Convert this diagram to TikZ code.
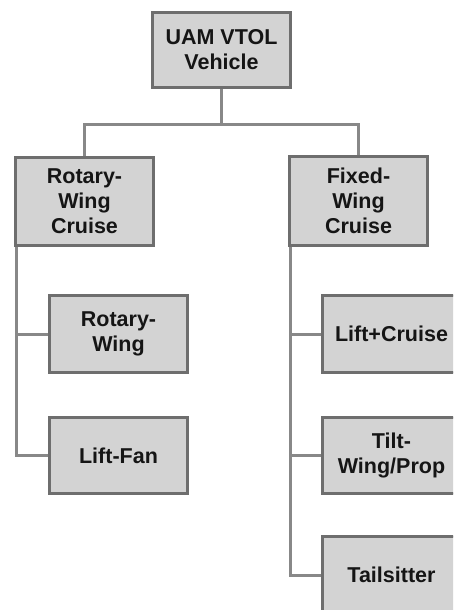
\documentclass[tikz,border=0pt]{standalone}
\usepackage{fontspec}
\setmainfont{Liberation Sans}
\definecolor{boxfill}{HTML}{D3D3D3}
\definecolor{boxline}{HTML}{6E6E6E}
\definecolor{linkgray}{HTML}{888888}
\definecolor{txt}{HTML}{151515}
\begin{document}
\begin{tikzpicture}[x=1pt,y=-1pt,
  box/.style={draw=boxline, line width=1.6pt, fill=boxfill, rectangle,
    inner sep=0pt, minimum width=137pt, align=center, text=txt,
    font=\fontsize{21.5}{25}\selectfont\bfseries},
  link/.style={draw=linkgray, line width=3pt}]
\useasboundingbox (0,0) rectangle (453,610);
\clip (0,0) rectangle (453,610);
\fill[white] (0,0) rectangle (453,610);
% nodes
\node[box, minimum height=74pt] (root) at (221.5,50) {UAM VTOL\\Vehicle};
\node[box, minimum height=87pt] (rwc) at (84.5,201.5) {Rotary-\\Wing\\Cruise};
\node[box, minimum height=88pt] (fwc) at (358.5,201) {Fixed-\\Wing\\Cruise};
\node[box, minimum height=76pt] (rw) at (118.5,334) {Rotary-\\Wing};
\node[box, minimum height=75pt] (lf) at (118.5,455.5) {Lift-Fan};
\node[box, minimum height=76pt] (lc) at (391.5,334) {Lift+Cruise};
\node[box, minimum height=75pt] (tw) at (391.5,455.5) {Tilt-\\Wing/Prop};
\node[box, minimum height=76pt] (ts) at (391.5,575) {Tailsitter};
% connectors
\coordinate (bus) at (221.5,124);
\draw[link] (root.south) -- (bus);
\draw[link] (rwc.north) |- (bus) -| (fwc.north);
\coordinate (lt) at ([xshift=1.5pt]rwc.south west);
\coordinate (rt) at ([xshift=1.5pt]fwc.south west);
\draw[link] (lt) |- (lf.west);
\draw[link] (lt |- rw.west) -- (rw.west);
\draw[link] (rt) |- (ts.west);
\draw[link] (rt |- lc.west) -- (lc.west);
\draw[link] (rt |- tw.west) -- (tw.west);
% redraw box borders over connector ends
\foreach \n in {root,rwc,fwc,rw,lf,lc,tw,ts}{
  \draw[boxline, line width=1.6pt] (\n.south west) rectangle (\n.north east);
}
\end{tikzpicture}
\end{document}
